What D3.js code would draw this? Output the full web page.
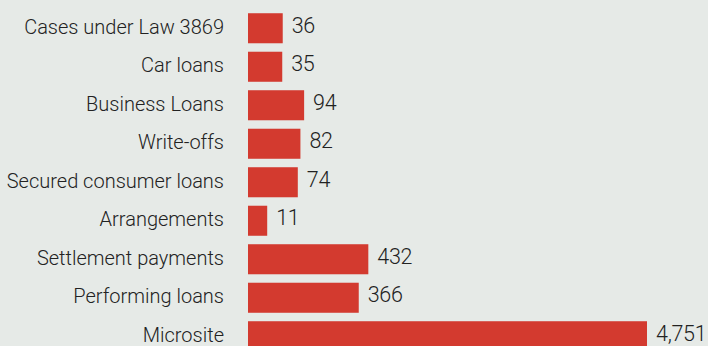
<!DOCTYPE html>
<html>
<head>
<meta charset="utf-8">
<script src="https://cdn.jsdelivr.net/npm/d3@7"></script>
<style>
  html, body { margin: 0; padding: 0; background: #e6eae7; }
  svg { display: block; }
  text { font-family: Roboto, "Open Sans", sans-serif; font-weight: 300; fill: #222; }
</style>
</head>
<body>
<svg id="chart" width="708" height="346"></svg>
<script>
// Applications by category
const categories = [
  "Cases under Law 3869",
  "Car loans",
  "Business Loans",
  "Write-offs",
  "Secured consumer loans",
  "Arrangements",
  "Settlement payments",
  "Performing loans",
  "Microsite"
];
const counts = [36, 35, 94, 82, 74, 11, 432, 366, 4751];

const W = 708, H = 346;
const barX = 248;

const svg = d3.select("#chart");

// bar length scales with the square root of the count
const x = d3.scaleSqrt()
  .domain([0, d3.max(counts)])
  .range([0, 399]);

const y = d3.scaleBand()
  .domain(categories)
  .range([9, 355.5])
  .paddingInner(0.22)
  .paddingOuter(0.11);

const rows = svg.append("g")
  .selectAll("g")
  .data(categories.map((c, i) => ({ c, v: counts[i] })))
  .join("g");

rows.append("rect")
  .attr("x", barX)
  .attr("y", d => y(d.c))
  .attr("width", d => x(d.v))
  .attr("height", y.bandwidth())
  .attr("fill", "#d33a2f");

rows.append("text")
  .attr("x", 224)
  .attr("y", d => y(d.c) + y.bandwidth() / 2)
  .attr("dy", "0.28em")
  .attr("text-anchor", "end")
  .attr("font-size", 20)
  .text(d => d.c);

rows.append("text")
  .attr("x", d => barX + x(d.v) + 9)
  .attr("y", d => y(d.c) + y.bandwidth() / 2)
  .attr("dy", "0.22em")
  .attr("font-size", 21.5)
  .attr("letter-spacing", -0.3)
  .text(d => d3.format(",")(d.v));
</script>
</body>
</html>
